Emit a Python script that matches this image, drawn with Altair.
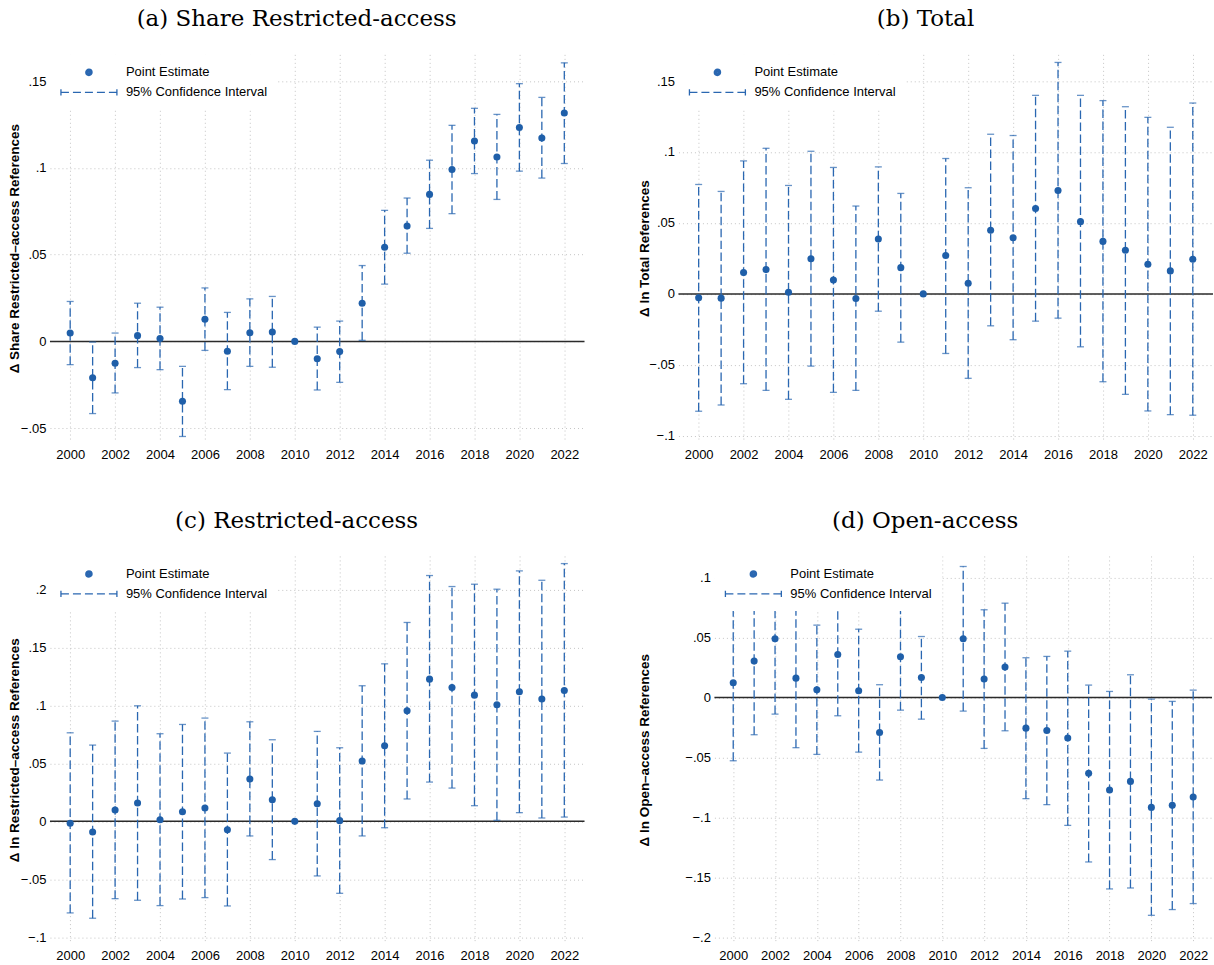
import altair as alt
import pandas as pd

years = list(range(2000, 2023))
x_ticks = list(range(2000, 2023, 2))

# (a) Share of restricted-access references
share_est = [0.0048, -0.0210, -0.0126, 0.0033, 0.0017, -0.0345, 0.0128, -0.0057, 0.0050, 0.0054, 0.0,
             -0.0100, -0.0059, 0.0220, 0.0542, 0.0665, 0.0847, 0.0990, 0.1155, 0.1063, 0.1232, 0.1172, 0.1316]
share_lo = [-0.0134, -0.0416, -0.0297, -0.0151, -0.0163, -0.0548, -0.0052, -0.0278, -0.0144, -0.0149, None,
            -0.0280, -0.0236, 0.0006, 0.0330, 0.0508, 0.0651, 0.0736, 0.0967, 0.0818, 0.0981, 0.0941, 0.1025]
share_hi = [0.0230, -0.0004, 0.0048, 0.0220, 0.0197, -0.0144, 0.0308, 0.0167, 0.0245, 0.0259, None,
            0.0082, 0.0117, 0.0437, 0.0755, 0.0826, 0.1044, 0.1245, 0.1343, 0.1308, 0.1485, 0.1406, 0.1605]

# (b) Total references (log)
total_est = [-0.0028, -0.0030, 0.0150, 0.0171, 0.0012, 0.0248, 0.0098, -0.0033, 0.0387, 0.0185, 0.0,
             0.0270, 0.0075, 0.0448, 0.0396, 0.0602, 0.0729, 0.0509, 0.0370, 0.0307, 0.0209, 0.0162, 0.0244]
total_lo = [-0.0827, -0.0783, -0.0633, -0.0680, -0.0743, -0.0509, -0.0694, -0.0680, -0.0122, -0.0340, None,
            -0.0420, -0.0595, -0.0225, -0.0323, -0.0192, -0.0171, -0.0373, -0.0619, -0.0708, -0.0825, -0.0851, -0.0855]
total_hi = [0.0771, 0.0722, 0.0937, 0.1026, 0.0764, 0.1005, 0.0891, 0.0619, 0.0895, 0.0708, None,
            0.0954, 0.0748, 0.1125, 0.1116, 0.1399, 0.1631, 0.1399, 0.1362, 0.1319, 0.1244, 0.1174, 0.1345]

# (c) Restricted-access references (log)
restr_est = [-0.0017, -0.0092, 0.0098, 0.0158, 0.0014, 0.0083, 0.0115, -0.0072, 0.0365, 0.0187, 0.0,
             0.0152, 0.0006, 0.0520, 0.0652, 0.0954, 0.1227, 0.1155, 0.1089, 0.1006, 0.1118, 0.1055, 0.1129]
restr_lo = [-0.0790, -0.0836, -0.0667, -0.0681, -0.0727, -0.0670, -0.0658, -0.0730, -0.0126, -0.0330, None,
            -0.0471, -0.0621, -0.0126, -0.0055, 0.0193, 0.0339, 0.0287, 0.0135, 0.0009, 0.0075, 0.0029, 0.0037]
restr_hi = [0.0764, 0.0658, 0.0865, 0.0997, 0.0756, 0.0836, 0.0891, 0.0589, 0.0859, 0.0704, None,
            0.0776, 0.0635, 0.1170, 0.1359, 0.1716, 0.2121, 0.2026, 0.2046, 0.2003, 0.2161, 0.2080, 0.2224]

# (d) Open-access references (log)
open_est = [0.0122, 0.0303, 0.0489, 0.0161, 0.0064, 0.0358, 0.0056, -0.0292, 0.0339, 0.0167, 0.0,
            0.0489, 0.0153, 0.0253, -0.0256, -0.0275, -0.0339, -0.0633, -0.0772, -0.0700, -0.0917, -0.0900, -0.0831]
open_lo = [-0.0528, -0.0311, -0.0139, -0.0419, -0.0475, -0.0153, -0.0456, -0.0689, -0.0106, -0.0181, None,
           -0.0114, -0.0425, -0.0278, -0.0844, -0.0894, -0.1067, -0.1372, -0.1597, -0.1589, -0.1817, -0.1769, -0.1719]
open_hi = [0.0772, 0.0917, 0.1117, 0.0742, 0.0603, 0.0869, 0.0569, 0.0106, 0.0784, 0.0508, None,
           0.1092, 0.0731, 0.0786, 0.0331, 0.0342, 0.0386, 0.0103, 0.0050, 0.0189, -0.0014, -0.0033, 0.0061]

legend_labels = ["Point Estimate", "95% Confidence Interval"]

POINT_COLOR = "#1f5fa9"
CI_COLOR = "#2a67b1"
SANS = "Liberation Sans"
SERIF = "DejaVu Serif"

# Legend glyphs (unit coordinates, scaled by sqrt(symbolSize)/2), both drawn
# as strokes: a dot built from concentric rings, and a dashed capped segment.
DOT_PATH = ("M3.45,0A0.45,0.45,0,1,1,2.55,0A0.45,0.45,0,1,1,3.45,0Z"
            "M3.28,0A0.28,0.28,0,1,1,2.72,0A0.28,0.28,0,1,1,3.28,0Z"
            "M3.12,0A0.12,0.12,0,1,1,2.88,0A0.12,0.12,0,1,1,3.12,0Z")
CI_PATH = ("M-1,-0.45V0.45M7,-0.45V0.45"
           "M-1,0H0.143M0.714,0H1.857M2.429,0H3.571M4.143,0H5.286M5.857,0H7")

YEAR_DOMAIN = [1999.1, 2022.9]
HEIGHT = 388

Y_LABELS = ("datum.value == 0 ? '0' : (datum.value < 0 ? '\u2212' : '') + "
            "substring(format(abs(datum.value), '~g'), 1)")


def panel(title, ytitle, est, lo, hi, ydomain, yticks, width, title_x):
    df = pd.DataFrame({"year": years, "est": est, "lo": lo, "hi": hi})

    x_enc = alt.X(
        "year:Q",
        scale=alt.Scale(domain=YEAR_DOMAIN, nice=False, zero=False),
        axis=alt.Axis(values=x_ticks, format="d", title=None, labelPadding=6),
    )
    y_scale = alt.Scale(domain=ydomain, nice=False, zero=False)
    y_axis = alt.Axis(
        values=yticks,
        labelExpr=Y_LABELS,
        title=ytitle,
        titleX=title_x,
        titleY=HEIGHT / 2,
        titleBaseline="middle",
        titleAngle=-90,
        labelPadding=4,
    )

    def y(field):
        return alt.Y(field, type="quantitative", scale=y_scale, axis=y_axis)

    zero = alt.Chart(pd.DataFrame({"ref": [0.0]})).mark_rule(
        color="#2b2b2b", strokeWidth=1.5
    ).encode(y=y("ref"))

    intervals = alt.Chart(df).transform_filter("isValid(datum.lo)")

    ci = intervals.mark_rule(
        color=CI_COLOR, strokeWidth=1.3, strokeDash=[8.5, 3.5]
    ).encode(x=x_enc, y=y("lo"), y2="hi")

    caps = intervals.transform_fold(["lo", "hi"], as_=["bound", "val"]).mark_tick(
        orient="horizontal", size=7, thickness=1.3, color=CI_COLOR
    ).encode(x=x_enc, y=y("val"))

    points = alt.Chart(df).mark_circle(
        size=50, color=POINT_COLOR, opacity=1
    ).encode(x=x_enc, y=y("est"))

    key_df = pd.DataFrame({"series": legend_labels, "year": [None, None], "est": [None, None]})
    key = alt.Chart(key_df).mark_point(
        filled=False, size=196, color=CI_COLOR, strokeWidth=1.3, opacity=1
    ).encode(
        x=x_enc,
        y=y("est"),
        shape=alt.Shape(
            "series:N",
            scale=alt.Scale(domain=legend_labels, range=[DOT_PATH, CI_PATH]),
            legend=alt.Legend(
                title=None,
                orient="top-left",
                offset=0,
                padding=10,
                fillColor="white",
                labelFont=SANS,
                labelFontSize=13,
                labelColor="black",
                labelOffset=50,
                rowPadding=5,
                symbolSize=196,
                symbolStrokeColor=CI_COLOR,
                symbolStrokeWidth=1.3,
                symbolOpacity=1,
                zindex=1,
            ),
        ),
    )

    return alt.layer(zero, ci, caps, points, key).properties(
        width=width,
        height=HEIGHT,
        title=alt.TitleParams(
            title, font=SERIF, fontSize=23, fontWeight="normal",
            color="black", anchor="middle", baseline="alphabetic",
            frame="bounds", offset=5,
        ),
    )


pa = panel("(a) Share Restricted-access", "\u0394 Share Restricted\u2013access References",
           share_est, share_lo, share_hi, [-0.058, 0.1654],
           [-0.05, 0, 0.05, 0.1, 0.15], 535, -35)
pb = panel("(b) Total", "\u0394 ln Total References",
           total_est, total_lo, total_hi, [-0.1044, 0.1688],
           [-0.1, -0.05, 0, 0.05, 0.1, 0.15], 535, -34)
pc = panel("(c) Restricted-access", "\u0394 ln Restricted\u2013access References",
           restr_est, restr_lo, restr_hi, [-0.1055, 0.229],
           [-0.1, -0.05, 0, 0.05, 0.1, 0.15, 0.2], 535, -35)
pd_ = panel("(d) Open-access", "\u0394 ln Open\u2013access References",
            open_est, open_lo, open_hi, [-0.2053, 0.118],
            [-0.2, -0.15, -0.1, -0.05, 0, 0.05, 0.1], 498, -70)

chart = alt.concat(
    pa, pb, pc, pd_, columns=2,
    spacing={"row": 49, "column": 52},
    align={"row": "all", "column": "none"},
).resolve_scale(
    shape="independent"
).resolve_legend(
    shape="independent"
).properties(
    padding={"left": 8, "top": 8, "right": 0, "bottom": 0},
    background="white",
).configure_view(
    stroke=None
).configure_axis(
    labelFont=SANS,
    labelFontSize=13,
    labelColor="black",
    titleFont=SANS,
    titleFontSize=13.5,
    titleFontWeight="bold",
    titleColor="black",
    domain=False,
    ticks=False,
    grid=True,
    gridColor="#c4c4c4",
    gridDash=[1, 3],
    gridWidth=1,
)

chart.save("out.html", embed_options={"renderer": "svg", "actions": False})
